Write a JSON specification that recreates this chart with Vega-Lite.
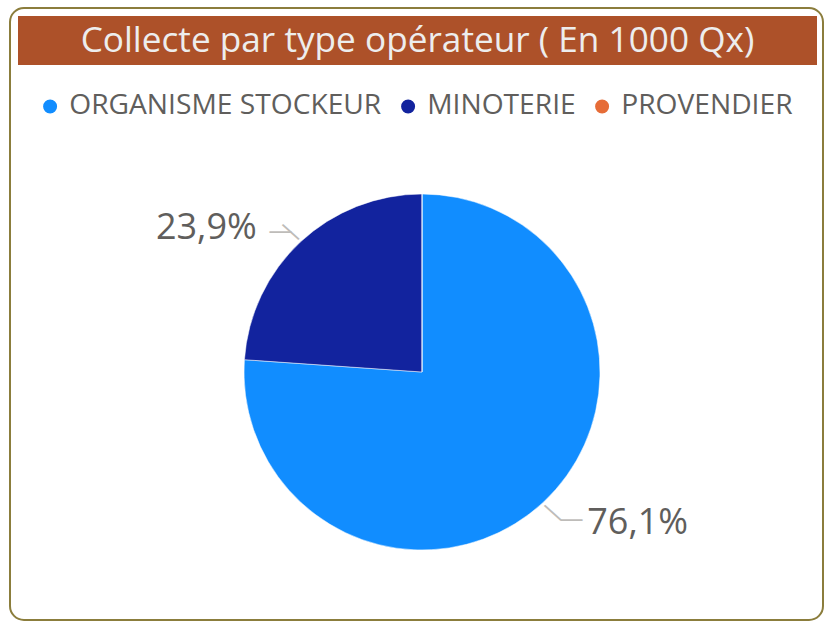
{
  "$schema": "https://vega.github.io/schema/vega-lite/v6.json",
  "width": 828,
  "height": 622,
  "autosize": {"type": "fit", "contains": "padding"},
  "padding": {"left": 10, "top": 8, "right": 5, "bottom": 2},
  "background": "white",
  "view": {"stroke": "#8B7D3C", "strokeWidth": 2, "cornerRadius": 14, "fill": "white"},
  "config": {
    "view": {"stroke": "#8B7D3C", "strokeWidth": 2, "cornerRadius": 14, "fill": "white"},
    "locale": {"number": {"decimal": ",", "thousands": " ", "grouping": [3], "currency": ["", " €"]}},
    "font": "Open Sans"
  },
  "datasets": {
    "ops": [
      {"op": "ORGANISME STOCKEUR", "share": 0.761},
      {"op": "MINOTERIE", "share": 0.239},
      {"op": "PROVENDIER", "share": 0}
    ],
    "head": [{"t": "Collecte par type opérateur ( En 1000 Qx)"}]
  },
  "layer": [
    {
      "data": {"name": "head"},
      "mark": {"type": "rect", "color": "#AD5129", "x": 8, "x2": {"expr": "width - 6"}, "y": 8, "y2": 57},
      "encoding": {}
    },
    {
      "data": {"name": "head"},
      "mark": {"type": "text", "x": {"expr": "width / 2 + 1"}, "y": 33, "align": "center", "baseline": "middle", "fontSize": 35.2, "color": "#EDEDED", "font": "Open Sans"},
      "encoding": {"text": {"field": "t"}}
    },
    {
      "data": {"name": "ops"},
      "mark": {"type": "arc", "x": 412, "y": 364, "radius": 178, "stroke": "white", "strokeWidth": 0.5},
      "encoding": {
        "theta": {"field": "share", "type": "quantitative", "stack": true},
        "order": {"field": "share", "sort": "descending"},
        "color": {
          "field": "op",
          "type": "nominal",
          "scale": {"domain": ["ORGANISME STOCKEUR", "MINOTERIE", "PROVENDIER"], "range": ["#118DFF", "#12239E", "#E66C37"]},
          "legend": {
            "title": null,
            "orient": "none",
            "direction": "horizontal",
            "columns": 3,
            "legendX": 26,
            "legendY": 84,
            "padding": 0,
            "symbolType": "circle",
            "symbolSize": 240,
            "labelFontSize": 28.2,
            "labelFont": "Open Sans",
            "labelColor": "#605E5C",
            "labelOffset": 5,
            "columnPadding": 12,
            "labelLimit": 500
          }
        }
      }
    },
    {
      "data": {"name": "ops"},
      "transform": [{"filter": "datum.share > 0"}],
      "mark": {"type": "text", "x": 412, "y": 364, "radius": 192, "text": "—", "angle": 42, "fontSize": 24, "font": "Noto Sans", "color": "#BEBCB9", "align": "center", "baseline": "middle"},
      "encoding": {
        "theta": {"field": "share", "type": "quantitative", "stack": true},
        "order": {"field": "share", "sort": "descending"}
      }
    },
    {
      "data": {"name": "ops"},
      "transform": [{"filter": "datum.share > 0"}],
      "mark": {"type": "text", "x": 412, "y": 364, "radius": 200, "text": "—", "fontSize": 24, "font": "Noto Sans", "color": "#BEBCB9", "align": "center", "baseline": "middle", "dx": {"expr": "datum.share < 0.5 ? -5 : 13"}, "dy": {"expr": "datum.share < 0.5 ? 5 : 1"}},
      "encoding": {
        "theta": {"field": "share", "type": "quantitative", "stack": true},
        "order": {"field": "share", "sort": "descending"}
      }
    },
    {
      "data": {"name": "ops"},
      "transform": [{"filter": "datum.share > 0"}],
      "mark": {"type": "text", "x": 412, "y": 364, "radius": 210, "fontSize": 36, "font": "Open Sans", "color": "#605E5C", "baseline": "middle", "align": {"expr": "datum.share < 0.5 ? 'right' : 'left'"}, "dx": {"expr": "datum.share < 0.5 ? -22 : 22"}, "dy": {"expr": "datum.share < 0.5 ? 10 : -3"}},
      "encoding": {
        "theta": {"field": "share", "type": "quantitative", "stack": true},
        "order": {"field": "share", "sort": "descending"},
        "text": {"field": "share", "type": "quantitative", "format": ".1%"}
      }
    }
  ]
}
